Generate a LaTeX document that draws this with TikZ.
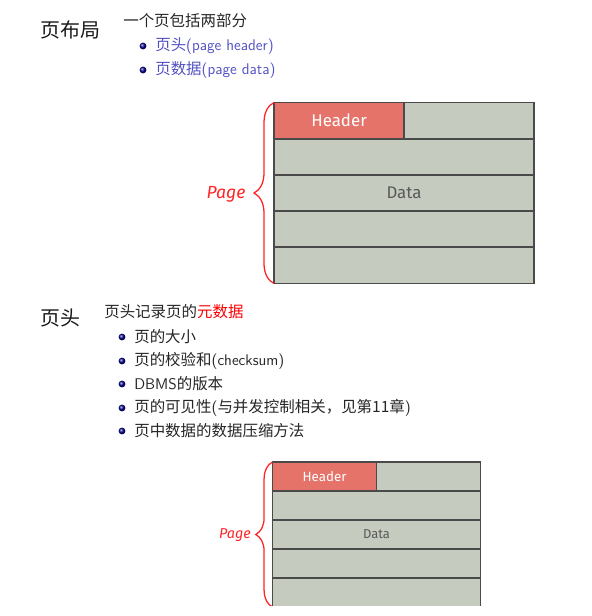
\documentclass[tikz,border=0pt]{standalone}
\usepackage{fontspec}
\newfontfamily\cjk{Noto Sans CJK SC}
\newfontfamily\boxfont{Fira Sans}
\usetikzlibrary{positioning,decorations.pathreplacing}
\definecolor{hdrred}{HTML}{E5736A}
\definecolor{cellgray}{HTML}{C6CBC0}
\definecolor{gridline}{HTML}{4A4A4A}
\definecolor{itemblue}{HTML}{5252C4}
\definecolor{bracered}{HTML}{FF2424}
\newcommand{\zh}[1]{{\cjk #1}}
\begin{document}
\begin{tikzpicture}[x=0.025cm, y=-0.025cm,
  ttl/.style={anchor=west, inner sep=0pt, font=\cjk\fontsize{14.2}{16}\selectfont, text=black!90},
  txt/.style={anchor=west, inner sep=0pt, font=\sffamily\fontsize{11}{13}\selectfont, text=black!85},
  bul/.style={circle, inner sep=0pt, minimum size=0.17cm, shading=ball, ball color=blue!55!black},
  cell/.style={rectangle, anchor=north west, draw=gridline, line width=1.3pt, fill=cellgray, outer sep=0pt, inner sep=0pt},
  hdr/.style={cell, fill=hdrred, text=white},
  lbl/.style={font=\boxfont, text=black!65},
  pagebrace/.style={draw=bracered, line width=0.9pt, decorate, decoration={brace, amplitude=#1}},
  pagelbl/.style={font=\boxfont\itshape, text=bracered, inner sep=0pt}
]
\useasboundingbox (0,0) rectangle (591,616);

\node[ttl] (t1) at (40,30) {页布局};
\node[txt] (s1) at (123,21) {\zh{一个页包括两部分}};
\node[bul] (b1) at (143,46) {};
\node[txt, text=itemblue] (i1) at (155,46) {\zh{页头}(page header)};
\node[bul] (b2) at (143,70) {};
\node[txt, text=itemblue] (i2) at (155,70) {\zh{页数据}(page data)};

\node[hdr, minimum width=3.25cm, minimum height=0.905cm, font=\boxfont\fontsize{12}{14}\selectfont] (h1) at (274,102.5) {Header};
\node[cell, minimum width=3.25cm, minimum height=0.905cm] (e1) at (404,102.5) {};
\foreach \i in {1,...,4}
  \node[cell, minimum width=6.5cm, minimum height=0.905cm] (r\i) at (274,102.5+36.2*\i) {};
\node[lbl, font=\boxfont\fontsize{12}{14}\selectfont] (d1) at (r2.center) {Data};
\draw[pagebrace=0.5cm] (r4.south west) -- (h1.north west);
\node[pagelbl, font=\boxfont\itshape\fontsize{12.5}{14}\selectfont] (p1) at (226,194) {Page};

\node[ttl] (t2) at (40,318) {页头};
\node[txt] (s2) at (104,312) {\zh{页头记录页的\textcolor{red}{元数据}}};
\node[bul] (b3) at (122,337) {};
\node[txt] (i3) at (134,337) {\zh{页的大小}};
\node[bul] (b4) at (122,361) {};
\node[txt] (i4) at (134,361) {\zh{页的校验和}(checksum)};
\node[bul] (b5) at (122,384) {};
\node[txt] (i5) at (134,384) {DBMS\zh{的版本}};
\node[bul] (b6) at (122,408) {};
\node[txt] (i6) at (134,408) {\zh{页的可见性}(\zh{与并发控制相关，见第11章})};
\node[bul] (b7) at (122,431) {};
\node[txt] (i7) at (134,431) {\zh{页中数据的数据压缩方法}};

\begin{scope}
\clip (0,0) rectangle (591,605.8);
\node[hdr, minimum width=2.6cm, minimum height=0.725cm, font=\boxfont\fontsize{9.5}{11}\selectfont] (h2) at (272.5,462) {Header};
\node[cell, minimum width=2.6cm, minimum height=0.725cm] (e2) at (376.5,462) {};
\foreach \i in {1,...,4}
  \node[cell, minimum width=5.2cm, minimum height=0.725cm] (q\i) at (272.5,462+29*\i) {};
\node[lbl, font=\boxfont\fontsize{9.2}{11}\selectfont] (d2) at (q2.center) {Data};
\draw[pagebrace=0.42cm] (q4.south west) -- (h2.north west);
\end{scope}
\node[pagelbl, font=\boxfont\itshape\fontsize{10.2}{12}\selectfont] (p2) at (235,535) {Page};
\end{tikzpicture}
\end{document}
